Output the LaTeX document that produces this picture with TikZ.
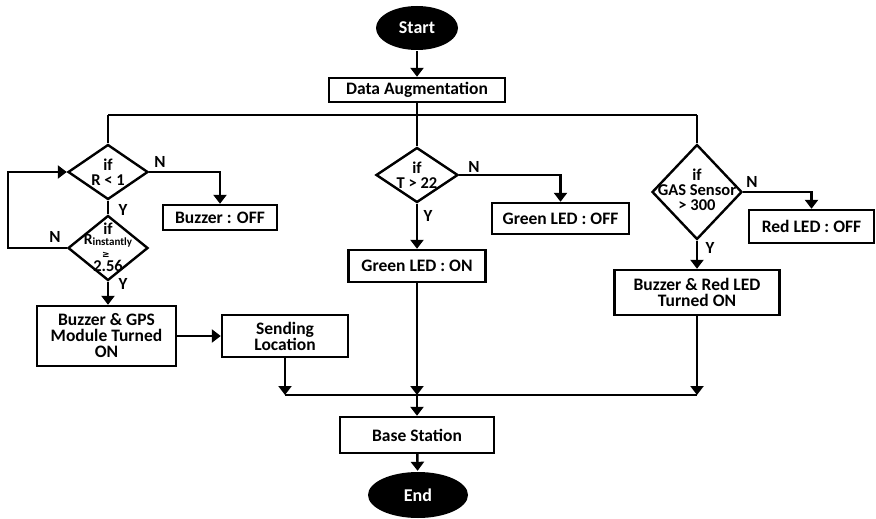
\documentclass[tikz,border=0pt]{standalone}
\usepackage{fontspec}
\setmainfont{Carlito}
\newfontfamily\symfont{DejaVu Sans}
\usetikzlibrary{shapes.geometric,arrows.meta}
\begin{document}
\begin{tikzpicture}[x=1pt,y=-1pt,
  line width=2.4pt,
  box/.style={draw,rectangle,inner sep=0pt,align=center,font=\fontsize{17.5}{16}\selectfont\bfseries},
  term/.style={ellipse,fill=black,text=white,inner sep=0pt,font=\fontsize{18}{18}\selectfont\bfseries},
  dia/.style={draw,diamond,inner sep=0pt},
  dtext/.style={align=center,inner sep=0pt,font=\fontsize{16.5}{15}\selectfont\bfseries},
  small/.style={inner sep=0pt,font=\symfont\fontsize{9}{9}\selectfont\bfseries},
  yn/.style={inner sep=0pt,font=\fontsize{17}{17}\selectfont\bfseries},
  arr/.style={-{Triangle[width=13pt,length=9pt]}},
]
\useasboundingbox (0,0) rectangle (876,519);
% terminals and top
\node[term,minimum width=82pt,minimum height=44pt] (start) at (417,28) {Start};
\node[box,minimum width=176pt,minimum height=24pt] (data) at (417,90) {Data Augmentation};
\coordinate (busL) at (108,115);
\coordinate (busM) at (417,115);
\coordinate (busR) at (697,115);
% left branch
\node[dia,minimum width=80pt,minimum height=55pt] (c1) at (108,172) {};
\node[dtext] (c1t) at (108,172) {if\\R < 1};
\node[box,minimum width=114pt,minimum height=25pt] (buzoff) at (220,217.5) {Buzzer : OFF};
\node[dia,minimum width=80pt,minimum height=65pt] (c2) at (108,248) {};
\node[dtext] (c2a) at (108,229) {if};
\node[dtext,font=\fontsize{15.5}{15}\selectfont\bfseries] (c2b) at (108,241) {R\raisebox{-1pt}{\fontsize{11}{11}\selectfont instantly}};
\node[small] (c2c) at (106,255) {≥};
\node[dtext] (c2d) at (108,266) {2.56};
\node[box,minimum width=139pt,minimum height=60pt] (gps) at (106.5,336) {Buzzer \& GPS\\Module Turned\\ON};
\node[box,minimum width=126pt,minimum height=42pt] (send) at (285,336) {Sending\\Location};
\coordinate (loop) at (8,248);
% center branch
\node[dia,minimum width=82pt,minimum height=55pt] (c3) at (417,175) {};
\node[dtext] (c3t) at (417,175) {if\\T > 22};
\node[box,minimum width=137pt,minimum height=31pt] (goff) at (560.5,218.5) {Green LED : OFF};
\node[box,minimum width=137pt,minimum height=32pt] (gon) at (417,266) {Green LED : ON};
% right branch
\node[dia,minimum width=90pt,minimum height=95pt] (c4) at (697,192) {};
\node[dtext] (c4t) at (697,190) {if\\GAS Sensor\\> 300};
\node[box,minimum width=125pt,minimum height=33pt] (roff) at (811.5,226.5) {Red LED : OFF};
\node[box,minimum width=165pt,minimum height=45pt] (ron) at (697,292.5) {Buzzer \& Red LED\\Turned ON};
% merge and bottom
\coordinate (mL) at (285,395);
\coordinate (mC) at (417,395);
\coordinate (mR) at (697,395);
\node[box,minimum width=154pt,minimum height=36pt] (base) at (417,435) {Base Station};
\node[term,minimum width=100pt,minimum height=46pt] (end) at (418,495) {End};
% connectors
\draw[arr] (start) -- (data);
\draw (busL) -- (busR);
\draw (data.south) -- (busM) -- (c3.north);
\draw (busL) -- (c1.north);
\draw (busR) -- (c4.north);
\draw[arr] (c1.east) -| (buzoff.north);
\draw (c1.south) -- (c2.north);
\draw[arr] (c2.west) -- (loop) |- (c1.west);
\draw[arr] (c2.south) -- (c2.south |- gps.north);
\draw[arr] (gps.east) -- (send.west);
\draw[arr] (send.south) -- (mL);
\draw (mL) -- (mR);
\draw[arr] (c3.east) -| (goff.north);
\draw[arr] (c3.south) -- (gon.north);
\draw[arr] (gon.south) -- (mC);
\draw[arr] (c4.east) -| (roff.north);
\draw[arr] (c4.south) -- (ron.north);
\draw[arr] (ron.south) -- (mR);
\draw[arr] (mC) -- (base.north);
\draw[arr] (base) -- (end);
% labels
\node[yn] (n1) at (160,162) {N};
\node[yn] (y1) at (123,210) {Y};
\node[yn] (n2) at (55,237) {N};
\node[yn] (y2) at (123,284) {Y};
\node[yn] (n3) at (474,167) {N};
\node[yn] (y3) at (428,216) {Y};
\node[yn] (n4) at (752,182) {N};
\node[yn] (y4) at (710,248) {Y};
\end{tikzpicture}
\end{document}
